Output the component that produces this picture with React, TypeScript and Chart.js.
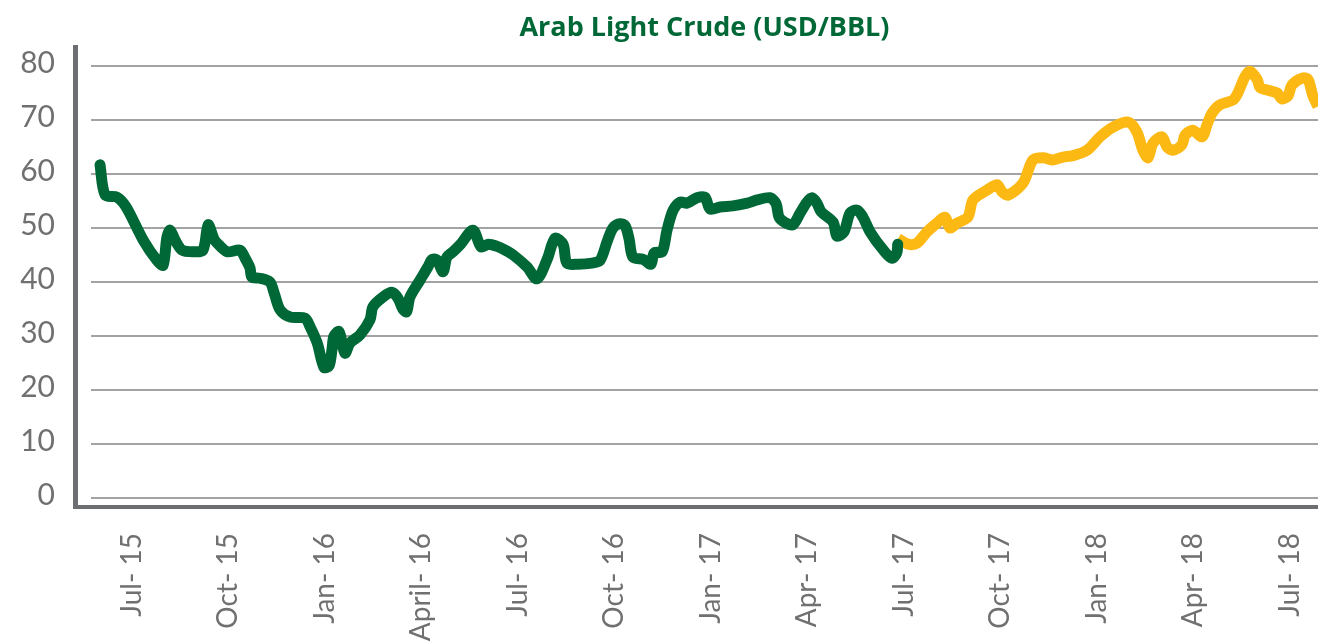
import { useEffect, useRef } from 'react';
import { Chart, registerables } from 'chart.js';

Chart.register(...registerables);

// x values are months since Jul 2015
const tickMonths = [0, 3, 6, 9, 12, 15, 18, 21, 24, 27, 30, 33, 36];
const tickLabels = ['Jul- 15', 'Oct- 15', 'Jan- 16', 'April- 16', 'Jul- 16', 'Oct- 16', 'Jan- 17', 'Apr- 17', 'Jul- 17', 'Oct- 17', 'Jan- 18', 'Apr- 18', 'Jul- 18'];

const greenMonths = [
  -0.98, -0.82, -0.45, -0.17, 0.36, 0.79, 0.98, 1.1, 1.2, 1.35, 1.57, 1.91, 2.22, 2.38, 2.56, 2.66, 2.97,
  3.37, 3.53, 3.68, 3.74, 3.99, 4.3, 4.43, 4.62, 4.93, 5.39, 5.55, 5.77, 5.98, 6.14, 6.23, 6.29, 6.45,
  6.63, 6.79, 7.1, 7.41, 7.5, 7.81, 8.09, 8.28, 8.43, 8.55, 8.65, 8.97, 9.21, 9.34, 9.49, 9.68, 9.8,
  9.99, 10.21, 10.61, 10.86, 11.08, 11.36, 11.61, 11.86, 12.29, 12.6, 12.91, 13.16, 13.41, 13.53, 13.88,
  14.31, 14.56, 14.78, 14.96, 15.18, 15.34, 15.46, 15.58, 15.9, 16.14, 16.24, 16.49, 16.64, 16.83, 17.05,
  17.26, 17.57, 17.82, 17.98, 18.29, 18.69, 19.13, 19.44, 19.84, 20.03, 20.12, 20.31, 20.55, 20.78, 20.99,
  21.15, 21.3, 21.43, 21.8, 21.92, 22.14, 22.33, 22.55, 22.73, 22.95, 23.35, 23.63, 23.78, 23.81,
];
const greenValues = [
  61.7, 56.1, 55.7, 53.9, 47.8, 44.0, 43.1, 48.3, 49.6, 47.8, 45.9, 45.6, 45.9, 50.6, 48.0, 47.2, 45.6,
  45.9, 44.4, 42.6, 40.9, 40.7, 40.0, 38.0, 34.8, 33.5, 33.3, 31.7, 28.7, 24.2, 24.5, 27.5, 30.0, 30.8,
  26.8, 28.7, 30.2, 33.0, 35.4, 37.2, 38.1, 37.0, 35.0, 34.5, 37.2, 40.4, 42.8, 44.2, 44.1, 41.9, 44.6,
  45.6, 46.9, 49.6, 46.5, 47.0, 46.6, 45.9, 45.0, 42.8, 40.6, 44.1, 48.1, 47.0, 43.5, 43.3,
  43.5, 44.0, 47.5, 50.0, 50.8, 50.4, 48.0, 44.6, 44.2, 43.3, 45.4, 45.6, 49.6, 53.3, 54.8,
  54.6, 55.6, 55.7, 53.5, 53.9, 54.1, 54.6, 55.2, 55.6, 54.5, 52.0, 51.0, 50.6, 52.8, 54.8,
  55.6, 54.6, 53.0, 51.1, 48.5, 49.3, 52.8, 53.3, 52.0, 49.3, 46.0, 44.4, 45.4, 47.0,
];

const yellowMonths = [
  23.82, 24.13, 24.41, 24.72, 25.03, 25.28, 25.43, 25.65, 25.99, 26.15, 26.58, 26.9, 27.05, 27.24, 27.7,
  28.01, 28.33, 28.64, 28.92, 29.26, 29.69, 30.1, 30.5, 30.97, 31.24, 31.43, 31.59, 31.74, 32.02, 32.18,
  32.36, 32.64, 32.74, 32.98, 33.27, 33.42, 33.58, 33.82, 34.23, 34.38, 34.6, 34.76, 34.98, 35.07, 35.32,
  35.6, 35.75, 35.94, 36.06, 36.4, 36.56, 36.71, 36.87,
];
const yellowValues = [
  48.0, 47.0, 47.2, 49.3, 50.9, 52.0, 50.0, 50.9, 52.0, 55.2, 57.0, 58.0, 56.7, 56.1, 58.3,
  62.6, 63.0, 62.6, 63.1, 63.4, 64.4, 66.9, 68.7, 69.6, 67.8, 64.4, 63.0, 65.7, 66.9, 65.0,
  64.4, 65.4, 67.2, 68.1, 66.9, 69.1, 71.3, 72.8, 73.7, 75.0, 78.0, 79.0, 77.5, 76.0, 75.5,
  75.0, 73.9, 74.5, 76.5, 77.8, 77.5, 74.5, 72.5,
];

const GREEN = '#006837';
const YELLOW = '#FDB913';
const AXIS = '#6d6e71';
const TEXT = '#707070';

const axisLines = {
  id: 'axisLines',
  beforeDatasetsDraw(chart: any) {
    const { ctx, chartArea } = chart;
    ctx.save();
    ctx.strokeStyle = AXIS;
    ctx.lineWidth = 5;
    ctx.beginPath();
    ctx.moveTo(chartArea.left - 15.5, chartArea.top - 21);
    ctx.lineTo(chartArea.left - 15.5, chartArea.bottom + 11);
    ctx.stroke();
    ctx.lineWidth = 4;
    ctx.beginPath();
    ctx.moveTo(chartArea.left - 18, chartArea.bottom + 9);
    ctx.lineTo(chartArea.right, chartArea.bottom + 9);
    ctx.stroke();
    ctx.restore();
  },
};

export default function App() {
  const ref = useRef<HTMLCanvasElement>(null);
  useEffect(() => {
    if (!ref.current) return;
    const chart = new Chart(ref.current, {
      type: 'line',
      data: {
        datasets: [
          {
            label: 'Arab Light',
            data: greenMonths.map((m, i) => ({ x: m, y: greenValues[i] })),
            borderColor: GREEN,
            borderWidth: 11,
            pointRadius: 0,
            tension: 0.3,
            borderJoinStyle: 'round',
            borderCapStyle: 'round',
            clip: { left: 20, top: 20, right: 0, bottom: 20 },
          },
          {
            label: 'Arab Light 2',
            data: yellowMonths.map((m, i) => ({ x: m, y: yellowValues[i] })),
            borderColor: YELLOW,
            borderWidth: 11,
            pointRadius: 0,
            tension: 0.3,
            borderJoinStyle: 'round',
            borderCapStyle: 'butt',
            clip: { left: 20, top: 20, right: 0, bottom: 20 },
          },
        ],
      },
      options: {
        animation: false,
        responsive: true,
        maintainAspectRatio: false,
        layout: { padding: 0 },
        plugins: {
          legend: { display: false },
          tooltip: { enabled: false },
          title: {
            display: true,
            text: 'Arab Light Crude (USD/BBL)',
            color: GREEN,
            fullSize: false,
            font: { family: 'Open Sans', size: 27, weight: 'bold', lineHeight: 1.2 },
            padding: { top: 12, bottom: 21.6 },
          },
        },
        scales: {
          x: {
            type: 'linear',
            min: -1.26,
            max: 36.87,
            afterBuildTicks: (scale: any) => {
              scale.ticks = tickMonths.map((v) => ({ value: v }));
            },
            afterFit: (scale: any) => {
              scale.height = 146;
              scale.paddingLeft = 0;
              scale.paddingRight = 0;
            },
            grid: { display: false, drawTicks: false },
            border: { display: false },
            ticks: {
              autoSkip: false,
              maxRotation: 90,
              minRotation: 90,
              padding: 35,
              color: TEXT,
              font: { family: 'Lato', size: 28 },
              callback: (value: any) => {
                const i = tickMonths.indexOf(Number(value));
                return i >= 0 ? tickLabels[i] : '';
              },
            },
          },
          y: {
            min: 0,
            max: 80,
            afterFit: (scale: any) => {
              scale.width = 91;
              scale.paddingTop = 0;
              scale.paddingBottom = 0;
            },
            grid: { color: '#a3a3a3', lineWidth: 2, drawTicks: false },
            border: { display: false },
            ticks: {
              stepSize: 10,
              padding: 36,
              labelOffset: -3,
              color: TEXT,
              font: { family: 'Lato', size: 30 },
            },
          },
        },
      },
      plugins: [axisLines],
    });
    return () => chart.destroy();
  }, []);
  return (
    <div style={{ position: 'absolute', left: 0, top: 0, width: 1318, height: 644 }}>
      <canvas ref={ref} />
    </div>
  );
}
